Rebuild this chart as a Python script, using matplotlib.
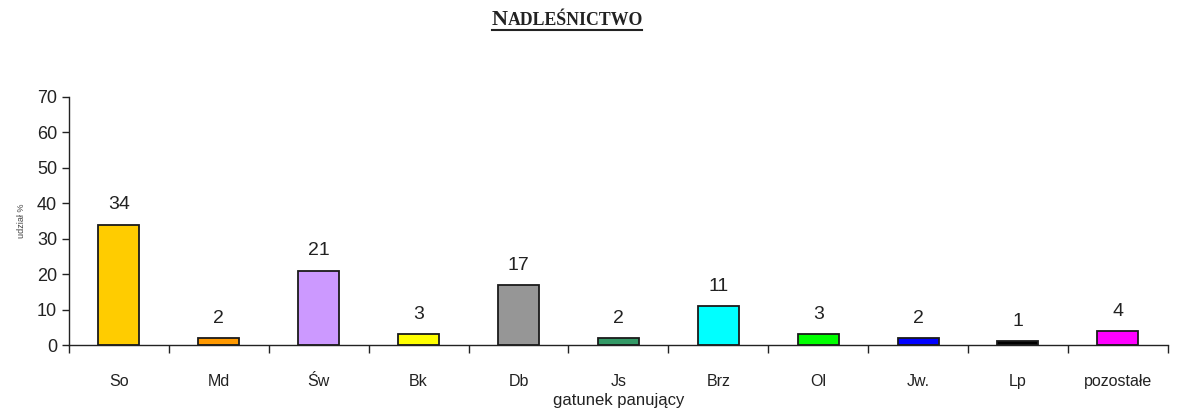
import matplotlib.pyplot as plt
import numpy as np

plt.rcParams['font.family'] = ['Liberation Sans', 'DejaVu Sans']

# gatunki panujace i ich udzial
gatunki = ["So", "Md", "Św", "Bk", "Db", "Js", "Brz", "Ol", "Jw.", "Lp", "pozostałe"]
udzial = [34, 2, 21, 3, 17, 2, 11, 3, 2, 1, 4]
kolory = ["#FFCC00", "#FF9900", "#CC99FF", "#FFFF00", "#969696", "#339966",
          "#00FFFF", "#00FF00", "#0000FF", "#000000", "#FF00FF"]

fig = plt.figure(figsize=(11.79, 4.18), dpi=100)
ax = fig.add_axes([0.0585, 0.1746, 0.932, 0.5934])

x = np.arange(len(gatunki))
ax.bar(x, udzial, width=0.41, color=kolory, edgecolor="#1a1a1a", linewidth=1.3)

for xi, v in zip(x, udzial):
    ax.annotate(str(v), (xi, v), xytext=(0, 8), textcoords="offset points",
                ha="center", va="bottom", fontsize=14, color="#222222")

ax.set_xlim(-0.5, len(gatunki) - 0.5)
ax.set_ylim(0, 70)
ax.set_yticks(range(0, 71, 10))
ax.tick_params(axis="y", labelsize=13, length=5, width=1, colors="#222222")

ax.set_xticks(np.arange(-0.5, len(gatunki)), labels=[])
ax.set_xticks(x, labels=gatunki, minor=True)
ax.tick_params(axis="x", which="major", length=6, width=1, color="#222222")
ax.tick_params(axis="x", which="minor", length=0, pad=21, labelsize=11.5, labelcolor="#222222")

ax.spines["top"].set_visible(False)
ax.spines["right"].set_visible(False)
for s in ["left", "bottom"]:
    ax.spines[s].set_color("#222222")
    ax.spines[s].set_linewidth(1)

ax.set_xlabel("gatunek panujący", fontsize=12, color="#222222", labelpad=3)
ax.set_ylabel("udział %", fontsize=6.5, color="#444444", labelpad=8)

# tytul w stylu kapitalikow
t1 = fig.text(0.4173, 0.94, "N", fontsize=16, fontweight="bold", family="Liberation Serif",
              ha="left", va="baseline", color="#222222")
fig.canvas.draw()
bb = t1.get_window_extent().transformed(fig.transFigure.inverted())
fig.text(bb.x1, 0.94, "ADLEŚNICTWO", fontsize=12.8, fontweight="bold",
         family="Liberation Serif", ha="left", va="baseline", color="#222222")
fig.add_artist(plt.Line2D([0.4173, 0.5445], [0.928, 0.928], color="#222222", linewidth=1.5))

fig.savefig("out.png", dpi=100)
